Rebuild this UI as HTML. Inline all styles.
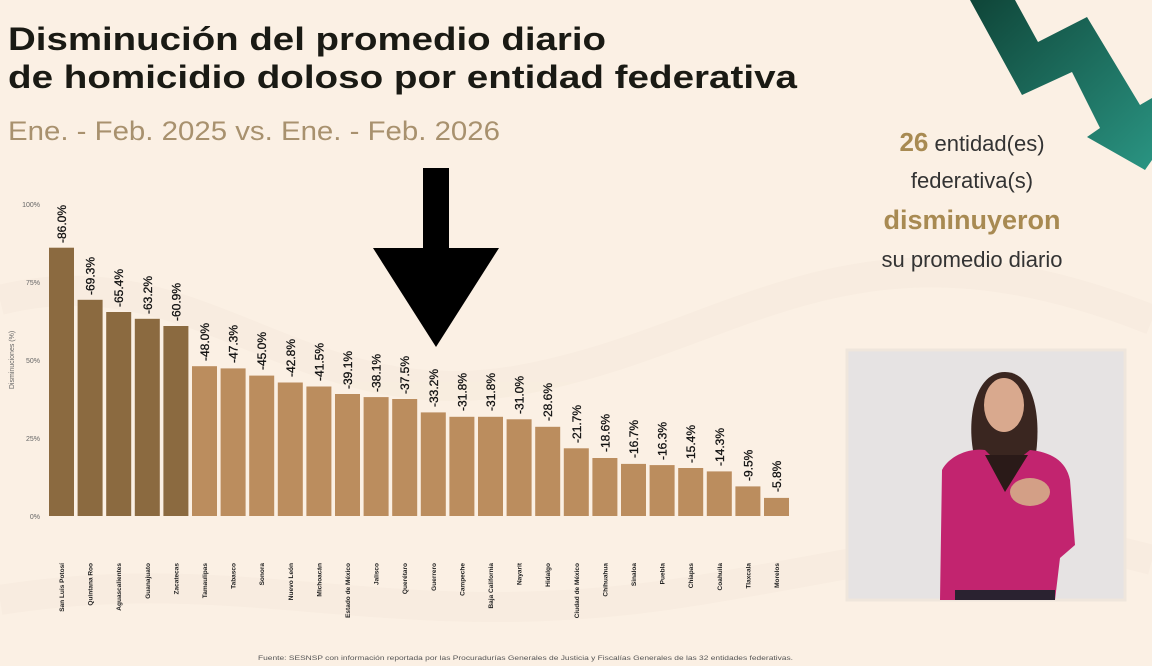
<!DOCTYPE html>
<html><head><meta charset="utf-8"><style>
html,body{margin:0;padding:0;background:#fbf0e4;}
svg{display:block;font-family:"Liberation Sans",sans-serif;}
</style></head><body>
<svg width="1152" height="666" viewBox="0 0 1152 666" xmlns="http://www.w3.org/2000/svg">
<defs>
<linearGradient id="g" x1="0" y1="0" x2="1" y2="1">
<stop offset="0" stop-color="#0f4538"/><stop offset="1" stop-color="#2a9482"/>
</linearGradient>
</defs>
<rect width="1152" height="666" fill="#fbf0e4"/>
<g opacity="0.18" fill="none" stroke="#efe0cc" stroke-width="30">
<path d="M0,300 C200,250 300,420 520,380 S850,200 1152,320"/>
<path d="M0,600 C250,560 400,640 700,590 S1000,520 1152,560"/>
</g>
<text x="8" y="50" font-size="32" font-weight="bold" fill="#1a1a14" textLength="598" lengthAdjust="spacingAndGlyphs">Disminución del promedio diario</text>
<text x="8" y="88" font-size="32" font-weight="bold" fill="#1a1a14" textLength="789" lengthAdjust="spacingAndGlyphs">de homicidio doloso por entidad federativa</text>
<text x="8" y="140" font-size="27" fill="#a8916e" textLength="492" lengthAdjust="spacingAndGlyphs">Ene. - Feb. 2025 vs. Ene. - Feb. 2026</text>

<polygon points="970,0 1015,0 1038,42 1087,17 1140,105 1152,98 1152,160 1145,170 1087,137 1100,128 1072,72 1022,95" fill="url(#g)"/>

<text x="972" y="151" font-size="22" text-anchor="middle" fill="#333"><tspan font-weight="bold" font-size="26" fill="#a88a52">26</tspan> entidad(es)</text>
<text x="972" y="188" font-size="22" text-anchor="middle" fill="#333">federativa(s)</text>
<text x="972" y="229" font-size="27" font-weight="bold" text-anchor="middle" fill="#a88a52">disminuyeron</text>
<text x="972" y="267" font-size="22" text-anchor="middle" fill="#333">su promedio diario</text>

<g font-size="7" fill="#666" text-anchor="end">
<text x="40" y="207">100%</text><text x="40" y="285">75%</text><text x="40" y="363">50%</text><text x="40" y="441">25%</text><text x="40" y="519">0%</text>
</g>
<text transform="translate(14,360) rotate(-90)" font-size="7" fill="#666" text-anchor="middle">Disminuciones (%)</text>

<g fill="#8b6a40">
<rect x="49" y="247.7" width="25" height="268.3"/>
<rect x="77.6" y="299.8" width="25" height="216.2"/>
<rect x="106.2" y="312" width="25" height="204"/>
<rect x="134.8" y="318.8" width="25" height="197.2"/>
<rect x="163.4" y="326" width="25" height="190"/>
</g>
<g fill="#bb8d5e">
<rect x="192" y="366.2" width="25" height="149.8"/>
<rect x="220.6" y="368.4" width="25" height="147.6"/>
<rect x="249.2" y="375.6" width="25" height="140.4"/>
<rect x="277.8" y="382.5" width="25" height="133.5"/>
<rect x="306.4" y="386.5" width="25" height="129.5"/>
<rect x="335" y="394" width="25" height="122"/>
<rect x="363.6" y="397.1" width="25" height="118.9"/>
<rect x="392.2" y="399" width="25" height="117"/>
<rect x="420.8" y="412.4" width="25" height="103.6"/>
<rect x="449.4" y="416.8" width="25" height="99.2"/>
<rect x="478" y="416.8" width="25" height="99.2"/>
<rect x="506.6" y="419.3" width="25" height="96.7"/>
<rect x="535.2" y="426.8" width="25" height="89.2"/>
<rect x="563.8" y="448.3" width="25" height="67.7"/>
<rect x="592.4" y="458" width="25" height="58"/>
<rect x="621" y="463.9" width="25" height="52.1"/>
<rect x="649.6" y="465.1" width="25" height="50.9"/>
<rect x="678.2" y="468" width="25" height="48"/>
<rect x="706.8" y="471.4" width="25" height="44.6"/>
<rect x="735.4" y="486.4" width="25" height="29.6"/>
<rect x="764" y="497.9" width="25" height="18.1"/>
</g>

<g font-size="12" fill="#111" stroke="#111" stroke-width="0.3">
<text transform="translate(66,243) rotate(-90)">-86.0%</text>
<text transform="translate(94.6,295) rotate(-90)">-69.3%</text>
<text transform="translate(123.2,307) rotate(-90)">-65.4%</text>
<text transform="translate(151.8,314) rotate(-90)">-63.2%</text>
<text transform="translate(180.4,321) rotate(-90)">-60.9%</text>
<text transform="translate(209,361) rotate(-90)">-48.0%</text>
<text transform="translate(237.6,363) rotate(-90)">-47.3%</text>
<text transform="translate(266.2,370) rotate(-90)">-45.0%</text>
<text transform="translate(294.8,377) rotate(-90)">-42.8%</text>
<text transform="translate(323.4,381) rotate(-90)">-41.5%</text>
<text transform="translate(352,389) rotate(-90)">-39.1%</text>
<text transform="translate(380.6,392) rotate(-90)">-38.1%</text>
<text transform="translate(409.2,394) rotate(-90)">-37.5%</text>
<text transform="translate(437.8,407) rotate(-90)">-33.2%</text>
<text transform="translate(466.4,411) rotate(-90)">-31.8%</text>
<text transform="translate(495,411) rotate(-90)">-31.8%</text>
<text transform="translate(523.6,414) rotate(-90)">-31.0%</text>
<text transform="translate(552.2,421) rotate(-90)">-28.6%</text>
<text transform="translate(580.8,443) rotate(-90)">-21.7%</text>
<text transform="translate(609.4,452) rotate(-90)">-18.6%</text>
<text transform="translate(638,458) rotate(-90)">-16.7%</text>
<text transform="translate(666.6,460) rotate(-90)">-16.3%</text>
<text transform="translate(695.2,463) rotate(-90)">-15.4%</text>
<text transform="translate(723.8,466) rotate(-90)">-14.3%</text>
<text transform="translate(752.4,481) rotate(-90)">-9.5%</text>
<text transform="translate(781,492) rotate(-90)">-5.8%</text>
</g>

<g font-size="6.5" font-weight="bold" fill="#222" text-anchor="end">
<text transform="translate(64,563) rotate(-90)">San Luis Potosí</text>
<text transform="translate(92.6,563) rotate(-90)">Quintana Roo</text>
<text transform="translate(121.2,563) rotate(-90)">Aguascalientes</text>
<text transform="translate(149.8,563) rotate(-90)">Guanajuato</text>
<text transform="translate(178.4,563) rotate(-90)">Zacatecas</text>
<text transform="translate(207,563) rotate(-90)">Tamaulipas</text>
<text transform="translate(235.6,563) rotate(-90)">Tabasco</text>
<text transform="translate(264.2,563) rotate(-90)">Sonora</text>
<text transform="translate(292.8,563) rotate(-90)">Nuevo León</text>
<text transform="translate(321.4,563) rotate(-90)">Michoacán</text>
<text transform="translate(350,563) rotate(-90)">Estado de México</text>
<text transform="translate(378.6,563) rotate(-90)">Jalisco</text>
<text transform="translate(407.2,563) rotate(-90)">Querétaro</text>
<text transform="translate(435.8,563) rotate(-90)">Guerrero</text>
<text transform="translate(464.4,563) rotate(-90)">Campeche</text>
<text transform="translate(493,563) rotate(-90)">Baja California</text>
<text transform="translate(521.6,563) rotate(-90)">Nayarit</text>
<text transform="translate(550.2,563) rotate(-90)">Hidalgo</text>
<text transform="translate(578.8,563) rotate(-90)">Ciudad de México</text>
<text transform="translate(607.4,563) rotate(-90)">Chihuahua</text>
<text transform="translate(636,563) rotate(-90)">Sinaloa</text>
<text transform="translate(664.6,563) rotate(-90)">Puebla</text>
<text transform="translate(693.2,563) rotate(-90)">Chiapas</text>
<text transform="translate(721.8,563) rotate(-90)">Coahuila</text>
<text transform="translate(750.4,563) rotate(-90)">Tlaxcala</text>
<text transform="translate(779,563) rotate(-90)">Morelos</text>
</g>

<text x="258" y="660" font-size="6.5" fill="#555" textLength="535" lengthAdjust="spacingAndGlyphs">Fuente: SESNSP con información reportada por las Procuradurías Generales de Justicia y Fiscalías Generales de las 32 entidades federativas.</text>

<rect x="423" y="168" width="26" height="82" fill="#000"/>
<polygon points="373,248 499,248 436,347" fill="#000"/>

<rect x="847" y="350" width="278" height="250" fill="#e6e3e3"/>
<rect x="847" y="350" width="278" height="250" fill="none" stroke="#efe6dc" stroke-width="3"/>
<path d="M975,460 C965,420 975,372 1005,372 C1035,372 1042,420 1035,460 Z" fill="#3a2620"/>
<ellipse cx="1004" cy="405" rx="20" ry="27" fill="#d9a98e"/>
<path d="M940,600 L942,470 C950,455 970,448 985,450 L1005,470 L1030,450 C1050,452 1066,460 1070,480 L1075,545 L1060,558 L1055,600 Z" fill="#c2246f"/>
<path d="M985,455 L1005,492 L1028,455 Z" fill="#2a1a18"/>
<ellipse cx="1030" cy="492" rx="20" ry="14" fill="#d39f86"/>
<rect x="955" y="590" width="100" height="10" fill="#2a2230"/>
</svg>
</body></html>
